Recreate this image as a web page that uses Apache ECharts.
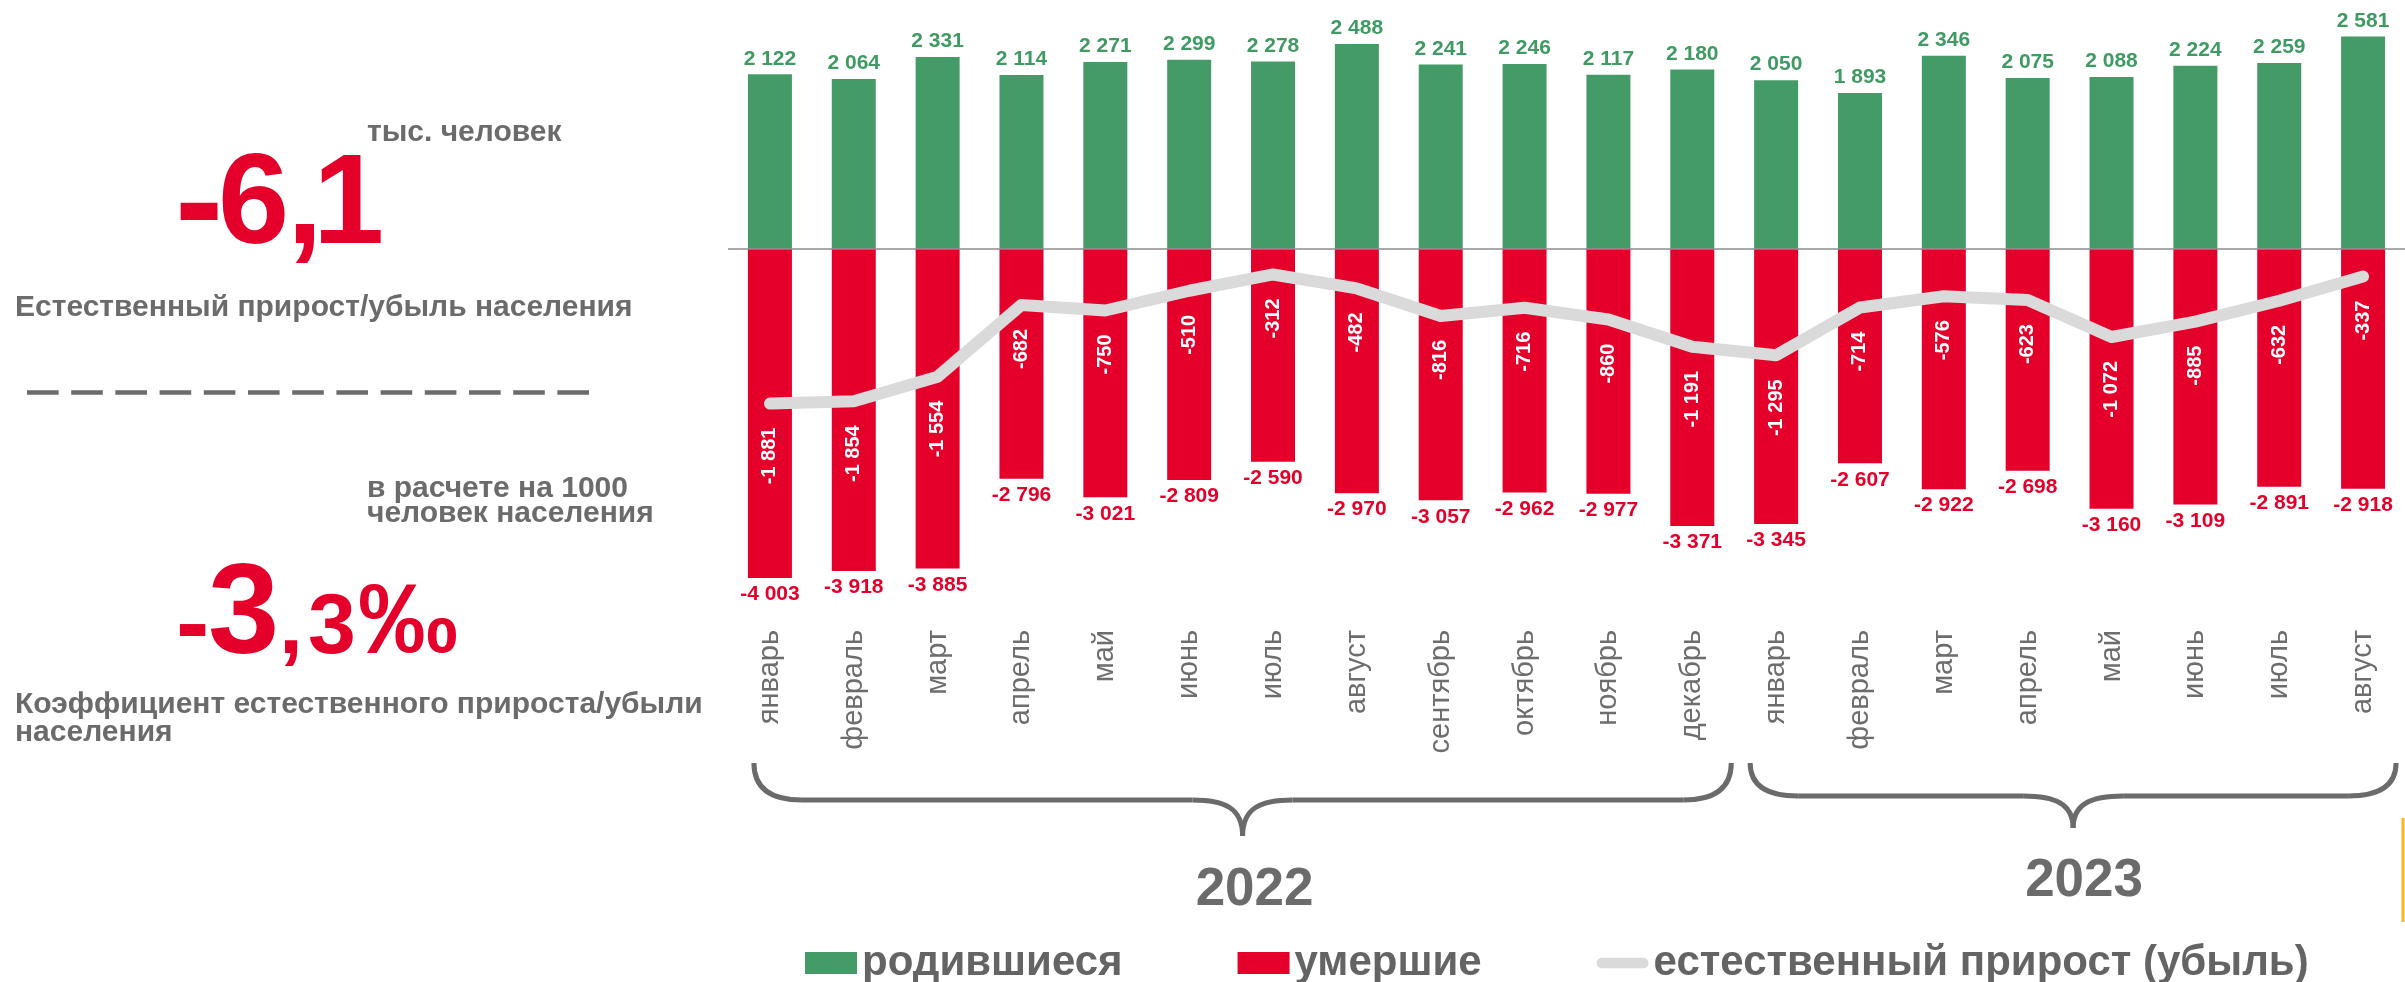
<!DOCTYPE html>
<html>
<head>
<meta charset="utf-8">
<title>Естественный прирост/убыль населения</title>
<script src="https://cdn.jsdelivr.net/npm/echarts@6/dist/echarts.min.js"></script>
<style>
	html,body{margin:0;padding:0;background:#fff;}
	#main{width:2405px;height:982px;}
</style>
</head>
<body>
<div id="main"></div>
<script>
;(function(){
	var months = ['январь','февраль','март','апрель','май','июнь','июль','август','сентябрь','октябрь','ноябрь','декабрь',
		'январь','февраль','март','апрель','май','июнь','июль','август'];
	var births = [2122,2064,2331,2114,2271,2299,2278,2488,2241,2246,2117,2180,2050,1893,2346,2075,2088,2224,2259,2581];
	var deaths = [-4003,-3918,-3885,-2796,-3021,-2809,-2590,-2970,-3057,-2962,-2977,-3371,-3345,-2607,-2922,-2698,-3160,-3109,-2891,-2918];
	var natural = [-1881,-1854,-1554,-682,-750,-510,-312,-482,-816,-716,-860,-1191,-1295,-714,-576,-623,-1072,-885,-632,-337];
	var years = ['2022','2023'];
	var yearFirst = [0,12];
	var yearLast = [11,19];

	var FONT = '"Liberation Sans", Arial, sans-serif';
	var GREEN = '#449b68';
	var RED = '#e4002b';
	var GREY = '#6b6b6b';
	var LINE = '#dadada';

	//пробел между разрядами
	function fmt(v){
		return String(v).replace(/\B(?=(\d{3})+(?!\d))/g,' ');
	}

	//текст по базовой линии
	function txt(x, base, str, size, color, align){
		return {
			type:'text',
			x:x,
			y:base - size*0.257,
			silent:true,
			style:{
				text:str,
				fontFamily:FONT,
				fontWeight:'bold',
				fontSize:size,
				fill:color,
				textAlign:align || 'left',
				textVerticalAlign:'middle'
			}
		};
	}

	//x так, чтобы левый край глифа встал на left
	var mctx = document.createElement('canvas').getContext('2d');
	function glyphX(str, size, left){
		mctx.font = 'bold ' + size + 'px ' + FONT;
		var m = mctx.measureText(str);
		return left + (m.actualBoundingBoxLeft || 0);
	}
	function bigTxt(str, size, left, base){
		return txt(glyphX(str,size,left), base, str, size, RED);
	}

	var chart = echarts.init(document.getElementById('main'));

	var option = {
		animation:false,
		grid:{left:728,top:2,width:1684,height:617},
		xAxis:{
			type:'category',
			data:months,
			axisLine:{show:false},
			axisTick:{show:false},
			axisLabel:{rotate:90,margin:11,fontSize:29,color:'#6d6d6d',fontFamily:FONT}
		},
		yAxis:{type:'value',min:-4500,max:3000,show:false},
		legend:{
			left:800,
			top:937,
			itemWidth:52,
			itemHeight:22,
			itemGap:115,
			textStyle:{fontSize:42,fontWeight:'bold',color:'#646464',fontFamily:FONT},
			data:[
				{name:'родившиеся',icon:'rect'},
				{name:'умершие',icon:'rect'},
				{name:'естественный прирост (убыль)',icon:'path://M6,0 L54,0 A6,6 0 0 1 54,12 L6,12 A6,6 0 0 1 6,0 Z'}
			]
		},
		series:[
			{
				name:'родившиеся',
				type:'bar',
				data:births,
				barWidth:44,
				barGap:'-100%',
				itemStyle:{color:GREEN},
				label:{show:true,position:'top',distance:5,color:'#3f9a63',fontSize:21,fontWeight:'bold',fontFamily:FONT,
					formatter:function(p){return fmt(p.value);}}
			},
			{
				name:'умершие',
				type:'bar',
				data:deaths,
				barWidth:44,
				itemStyle:{color:RED},
				label:{show:true,position:'bottom',distance:6,color:RED,fontSize:21,fontWeight:'bold',fontFamily:FONT,
					formatter:function(p){return fmt(p.value);}},
				markLine:{
					silent:true,
					symbol:'none',
					label:{show:false},
					lineStyle:{color:'#8c8c8c',width:1.5,type:'solid'},
					data:[{yAxis:0}]
				}
			},
			{
				name:'естественный прирост (убыль)',
				type:'line',
				data:natural,
				symbol:'circle',
				symbolSize:2,
				showSymbol:true,
				z:5,
				itemStyle:{color:LINE},
				lineStyle:{color:LINE,width:12,cap:'round',join:'round'},
				label:{show:true,position:'bottom',distance:23,rotate:90,align:'right',verticalAlign:'middle',
					color:'#fff',fontSize:20,fontWeight:'bold',fontFamily:FONT,
					formatter:function(p){return fmt(p.value);}}
			}
		]
	};
	chart.setOption(option);

	//левая панель
	var g = [];
	g.push(txt(367,140,'тыс. человек',30,GREY));
	g.push(bigTxt('-',145,180,246));
	g.push(bigTxt('6',128,222,241));
	g.push(bigTxt(',',128,295,241));
	g.push(bigTxt('1',128,321,241));
	g.push(txt(15,315,'Естественный прирост/убыль населения',30,GREY));
	g.push({
		type:'line',silent:true,
		shape:{x1:27,y1:392.5,x2:590,y2:392.5},
		style:{stroke:GREY,lineWidth:4.5,lineDash:[31.6,12.6]}
	});
	g.push(txt(367,496,'в расчете на 1000',30,GREY));
	g.push(txt(367,521,'человек населения',30,GREY));
	g.push(bigTxt('-',100,179,654));
	g.push(bigTxt('3',128,210,651));
	g.push(bigTxt(',',86,284,651));
	g.push(bigTxt('3',86,309,651));
	g.push(bigTxt('‰',100,360,651));
	g.push(txt(15,712,'Коэффициент естественного прироста/убыли',30,GREY));
	g.push(txt(15,740,'населения',30,GREY));

	//фигурные скобки под месяцами
	function cx(i){
		return chart.convertToPixel({xAxisIndex:0},i);
	}
	var braceCfg = [
		{l:-16,r:39,h:800,tip:836,ty:890,dx:12},
		{l:-26,r:33,h:796,tip:828,ty:881,dx:11}
	];
	var top = 763;
	for (var k = 0; k < years.length; k++) {
		var c = braceCfg[k];
		var x0 = cx(yearFirst[k]) + c.l;
		var x1 = cx(yearLast[k]) + c.r;
		var xm = (x0 + x1) / 2;
		var st = {stroke:GREY,lineWidth:5,fill:null};
		var r = 48;
		g.push({type:'bezierCurve',silent:true,shape:{x1:x0,y1:top,cpx1:x0,cpy1:c.h,x2:x0+r,y2:c.h},style:st});
		g.push({type:'line',silent:true,shape:{x1:x0+r,y1:c.h,x2:xm-50,y2:c.h},style:st});
		g.push({type:'bezierCurve',silent:true,shape:{x1:xm-50,y1:c.h,cpx1:xm-18,cpy1:c.h,cpx2:xm,cpy2:c.h+8,x2:xm,y2:c.tip},style:st});
		g.push({type:'bezierCurve',silent:true,shape:{x1:xm+50,y1:c.h,cpx1:xm+18,cpy1:c.h,cpx2:xm,cpy2:c.h+8,x2:xm,y2:c.tip},style:st});
		g.push({type:'line',silent:true,shape:{x1:xm+50,y1:c.h,x2:x1-r,y2:c.h},style:st});
		g.push({type:'bezierCurve',silent:true,shape:{x1:x1-r,y1:c.h,cpx1:x1,cpy1:c.h,x2:x1,y2:top},style:st});
		g.push({
			type:'text',silent:true,x:xm+c.dx,y:c.ty,
			style:{text:years[k],fontFamily:FONT,fontWeight:'bold',fontSize:53,fill:GREY,textAlign:'center',textVerticalAlign:'middle'}
		});
	}

	//тонкая жёлтая полоска у правого края
	g.push({type:'line',silent:true,shape:{x1:2403,y1:818,x2:2403,y2:922},style:{stroke:'#f6b81c',lineWidth:3}});

	chart.setOption({graphic:g});
})();
</script>
</body>
</html>
